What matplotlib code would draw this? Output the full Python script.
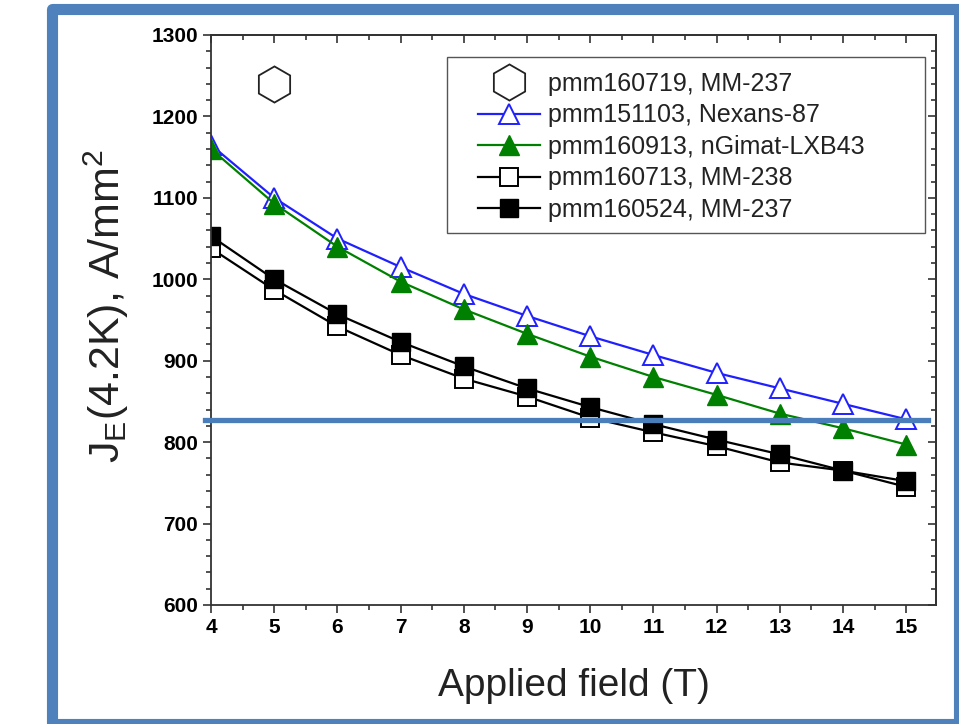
import numpy as np
import matplotlib
matplotlib.use('Agg')
import matplotlib.pyplot as plt
from matplotlib.patches import Rectangle
from matplotlib.ticker import MultipleLocator

plt.rcParams['font.family'] = ['Liberation Sans', 'DejaVu Sans']
plt.rcParams['mathtext.fontset'] = 'custom'
plt.rcParams['mathtext.rm'] = 'Liberation Sans'
plt.rcParams['mathtext.default'] = 'regular'

# ============= Data
field = [4, 5, 6, 7, 8, 9, 10, 11, 12, 13, 14, 15]
nexans87 = [1165, 1100, 1050, 1015, 982, 955, 930, 907, 885, 866, 847, 828]
ngimat = [1160, 1093, 1040, 997, 963, 933, 905, 880, 858, 835, 817, 797]
mm238 = [1038, 987, 942, 907, 878, 856, 830, 812, 795, 775, 765, 745]
mm237 = [1053, 1000, 957, 923, 893, 866, 843, 822, 803, 785, 765, 752]
hex_field = [5]
hex_je = [1240]
target_je = 827

labels = ['pmm160719, MM-237', 'pmm151103, Nexans-87', 'pmm160913, nGimat-LXB43',
          'pmm160713, MM-238', 'pmm160524, MM-237']

# ============= Figure
fig = plt.figure(figsize=(9.59, 7.24), dpi=100)
ax = fig.add_axes([0.220, 0.1644, 0.756, 0.7873])

h0, = ax.plot(hex_field, hex_je, ls='none', marker='h', ms=26, mfc='white',
              mec='#222222', mew=1.3, label=labels[0])
h1, = ax.plot(field, nexans87, color='#2020ff', lw=1.6, marker='^', ms=15,
              mfc='white', mec='#2020ff', mew=1.4, label=labels[1])
h3, = ax.plot(field, mm238, color='black', lw=1.6, marker='s', ms=12.5,
              mfc='white', mec='black', mew=1.4, label=labels[3])
h2, = ax.plot(field, ngimat, color='#008000', lw=1.6, marker='^', ms=15,
              mfc='#008000', mec='#008000', label=labels[2])
h4, = ax.plot(field, mm237, color='black', lw=1.6, marker='s', ms=12.5,
              mfc='black', mec='black', label=labels[4])

ax.plot([3.9, 15.35], [target_je, target_je], color='#4a7ebb', lw=3.8,
        clip_on=False, zorder=5)

ax.set_xlim(4, 15.47)
ax.set_ylim(600, 1300)
ax.xaxis.set_major_locator(MultipleLocator(1))
ax.xaxis.set_minor_locator(MultipleLocator(0.5))
ax.yaxis.set_major_locator(MultipleLocator(100))
ax.yaxis.set_minor_locator(MultipleLocator(20))

ax.tick_params(which='both', direction='out', top=False, right=False,
               labelsize=15, width=1.2, color='#333333')
ax.tick_params(which='major', length=6)
ax.tick_params(which='minor', length=3.5)
for lab in ax.get_xticklabels() + ax.get_yticklabels():
    lab.set_fontweight('bold')

# mirrored inward ticks on top / right
sec_x = ax.secondary_xaxis('top')
sec_x.xaxis.set_major_locator(MultipleLocator(1))
sec_x.xaxis.set_minor_locator(MultipleLocator(0.5))
sec_x.tick_params(which='both', direction='in', labeltop=False, width=1.2, color='#333333')
sec_x.tick_params(which='major', length=6)
sec_x.tick_params(which='minor', length=3.5)
sec_y = ax.secondary_yaxis('right')
sec_y.yaxis.set_major_locator(MultipleLocator(100))
sec_y.yaxis.set_minor_locator(MultipleLocator(20))
sec_y.tick_params(which='both', direction='in', labelright=False, width=1.2, color='#333333')
sec_y.tick_params(which='major', length=6)
sec_y.tick_params(which='minor', length=3.5)
for s in list(ax.spines.values()) + [sec_x.spines['top'], sec_y.spines['right']]:
    s.set_linewidth(1.3)
    s.set_color('#333333')

ax.set_xlabel('Applied field (T)', fontsize=28, color='#222222')
ax.xaxis.set_label_coords(0.5, -0.11)
ax.set_ylabel('$J_E$(4.2K), A/mm$^2$', fontsize=31, color='#222222')
ax.yaxis.set_label_coords(-0.11, 0.525)

# legend box drawn separately, entries placed inside it
ax.add_patch(Rectangle((0.3255, 0.653), 0.6595, 0.308, transform=ax.transAxes,
                       fill=True, facecolor='white', edgecolor='#555555',
                       lw=1.0, zorder=6))
leg = ax.legend(handles=[h0, h1, h2, h3, h4], loc='center left',
                bbox_to_anchor=(0.368, 0.8035), fontsize=18, frameon=False,
                handlelength=2.48, handletextpad=0.32, labelspacing=0.30,
                borderpad=0, borderaxespad=0)
leg.set_zorder(7)
for t in leg.get_texts():
    t.set_color('#222222')

# blue slide frame
fig.patches.append(Rectangle((51.5 / 959, 0.5 / 724), 907 / 959, 715 / 724,
                             transform=fig.transFigure, fill=False,
                             edgecolor='#4f81bd', lw=8, joinstyle='round'))

fig.savefig('out.png', dpi=100)
